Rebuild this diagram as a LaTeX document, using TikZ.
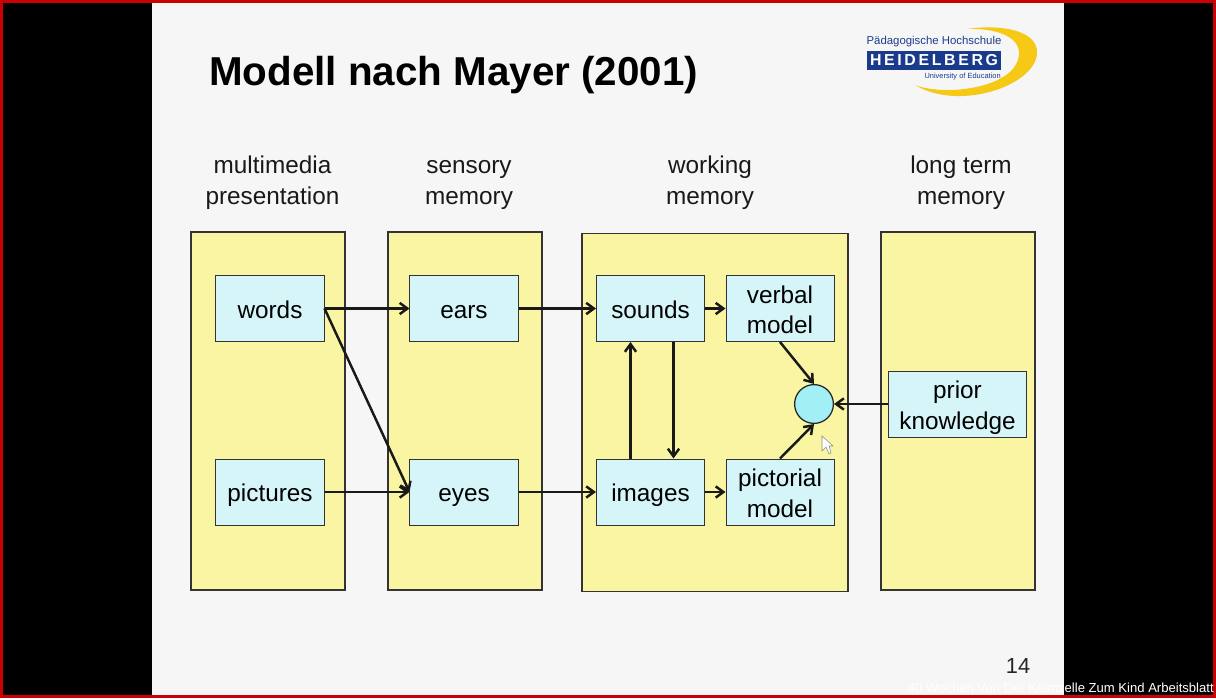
\documentclass[tikz,border=0pt]{standalone}
\usepackage{fontspec}
\usetikzlibrary{arrows.meta}
\setmainfont{Liberation Sans}
\definecolor{slidebg}{HTML}{F6F6F6}
\definecolor{panelfill}{HTML}{F9F5A2}
\definecolor{boxfill}{HTML}{D6F5F8}
\definecolor{dotfill}{HTML}{A2F0F5}
\definecolor{framered}{HTML}{CC0000}
\definecolor{logoblue}{HTML}{1A3A8C}
\definecolor{logoyellow}{HTML}{F5C916}
\newcommand{\boxtop}{\rule{0pt}{18.2pt}}
\newcommand{\boxbot}{\rule[-4pt]{0pt}{4pt}}
\begin{document}
\begin{tikzpicture}[x=0.025cm, y=-0.025cm]
\tikzset{panel/.style={draw=black!80, fill=panelfill, line width=0.8pt, minimum width=3.85cm, minimum height=8.95cm, inner sep=0pt}}
\tikzset{membox/.style={draw=black!80, fill=boxfill, line width=0.7pt, minimum width=2.7cm, minimum height=1.65cm, inner sep=0pt, align=center, font=\fontsize{17.3}{21.5}\selectfont}}
\tikzset{heading/.style={align=center, text=black!90, font=\fontsize{17.3}{22}\selectfont}}
\tikzset{arrowline/.style={-{Straight Barb[length=5.5pt, width=8pt]}, line width=1.75pt, black!90}}
% slide background
\useasboundingbox (0,0) rectangle (1216,698);
\fill[black] (0,0) rectangle (1216,698);
\fill[slidebg] (152,3) rectangle (1064,695);
\draw[framered, line width=2.1pt] (1.5,1.5) rectangle (1214.5,696.5);
% title and logo
\node[anchor=west, inner sep=0pt, font=\bfseries\fontsize{28.7}{34}\selectfont] (title) at (209,75) {Modell nach Mayer (2001)};
\fill[logoyellow] (967,29) .. controls (1000,24) and (1038,30) .. (1037,53) .. controls (1036,85) and (960,112) .. (915,85) .. controls (945,97) and (1020,88) .. (1019,52) .. controls (1018,36) and (995,28) .. (967,29);
\node[fill=logoblue, text=white, minimum width=3.35cm, minimum height=0.48cm, inner sep=0pt, font=\bfseries\fontsize{11.3}{13}\selectfont] (logobar) at (934,60.5) {H\,E\,I\,D\,E\,L\,B\,E\,R\,G};
\node[text=logoblue, inner sep=0pt, font=\fontsize{8.1}{10}\selectfont] (logotop) at (934,41.5) {Pädagogische Hochschule};
\node[anchor=east, text=logoblue, inner sep=0pt, font=\fontsize{5.3}{6}\selectfont] (logosub) at (1001,77) {University of Education};
% headings
\node[heading] (h1) at (272.5,183) {multimedia\strut\\presentation\strut};
\node[heading] (h2) at (469,183) {sensory\strut\\memory\strut};
\node[heading] (h3) at (710,183) {working\strut\\memory\strut};
\node[heading] (h4) at (961,183) {long term\strut\\memory\strut};
% panels
\node[panel] (p1) at (268,411) {};
\node[panel] (p2) at (465,411) {};
\node[panel, minimum width=6.65cm] (p3) at (715,412.5) {};
\node[panel] (p4) at (958,411) {};
% boxes
\node[membox] (words) at (270,308.5) {\boxtop words\boxbot};
\node[membox] (pictures) at (270,492) {\boxtop pictures\boxbot};
\node[membox] (ears) at (464,308.5) {\boxtop ears\boxbot};
\node[membox] (eyes) at (464,492) {\boxtop eyes\boxbot};
\node[membox] (sounds) at (650.5,308.5) {\boxtop sounds\boxbot};
\node[membox] (images) at (650.5,492) {\boxtop images\boxbot};
\node[membox] (verbal) at (780,308.5) {\boxtop verbal\\model\boxbot};
\node[membox] (pictorial) at (780,492) {\boxtop pictorial\\model\boxbot};
\node[membox, minimum width=3.47cm] (prior) at (957.5,404) {\boxtop prior\\knowledge\boxbot};
\node[circle, draw=black!85, fill=dotfill, line width=0.9pt, minimum size=0.97cm, inner sep=0pt] (dot) at (814,404) {};
% arrows
\path (words.east) edge [arrowline] (ears.west);
\path (words.east) edge [arrowline] (eyes.west);
\path (pictures.east) edge [arrowline] (eyes.west);
\path (ears.east) edge [arrowline] (sounds.west);
\path (eyes.east) edge [arrowline] (images.west);
\path (sounds.east) edge [arrowline] (verbal.west);
\path (images.east) edge [arrowline] (pictorial.west);
\path ([xshift=-0.5cm]images.north) edge [arrowline] ([xshift=-0.5cm]sounds.south);
\path ([xshift=0.575cm]sounds.south) edge [arrowline] ([xshift=0.575cm]images.north);
\path (verbal.south) edge [arrowline] (dot.north);
\path (pictorial.north) edge [arrowline] (dot.south);
\path (prior.west) edge [arrowline] (dot.east);
% mouse pointer
\draw[black!45, fill=white, line width=0.4pt] (822,436) -- (822,451) -- (826,447) -- (829,454) -- (831,453) -- (829,446) -- (833,446) -- cycle;
% page number and caption
\node[inner sep=0pt, text=black!85, font=\fontsize{15.5}{18}\selectfont] (pageno) at (1018,666) {14};
\node[anchor=east, inner sep=0pt, text=white, font=\fontsize{9.3}{11}\selectfont] (caption) at (1214,688) {40 Wochen Von Der Keimzelle Zum Kind Arbeitsblatt};
\end{tikzpicture}
\end{document}
